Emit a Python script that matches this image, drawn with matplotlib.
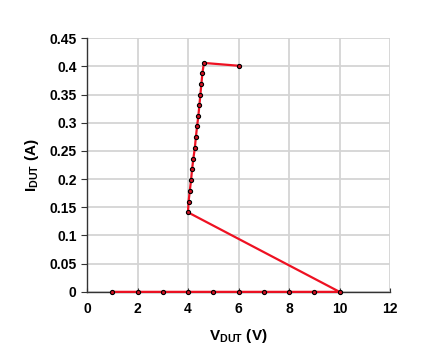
import matplotlib
matplotlib.use("Agg")
import matplotlib.pyplot as plt

plt.rcParams['font.family'] = ['Liberation Sans', 'DejaVu Sans']
plt.rcParams['mathtext.fontset'] = 'custom'
plt.rcParams['mathtext.rm'] = 'Liberation Sans:bold'
plt.rcParams['mathtext.bf'] = 'Liberation Sans:bold'

# measured DUT sweep: V (V), I (A)
v_dut = [1, 2, 3, 4, 5, 6, 7, 8, 9, 10,
         4.0, 4.02, 4.07, 4.12, 4.16, 4.21, 4.27, 4.31, 4.36, 4.41,
         4.45, 4.49, 4.53, 4.57, 4.63, 6.0]
i_dut = [0, 0, 0, 0, 0, 0, 0, 0, 0, 0,
         0.141, 0.159, 0.179, 0.198, 0.217, 0.236, 0.255, 0.274, 0.294, 0.312,
         0.331, 0.350, 0.369, 0.388, 0.406, 0.401]

x_ticks = [0, 2, 4, 6, 8, 10, 12]
y_ticks = [0, 0.05, 0.1, 0.15, 0.2, 0.25, 0.3, 0.35, 0.4, 0.45]
y_labels = ['0', '0.05', '0.1', '0.15', '0.2', '0.25', '0.3', '0.35', '0.4', '0.45']

fig = plt.figure(figsize=(4.45, 3.63), dpi=100)
ax = fig.add_axes([0.1955, 0.196, 0.681, 0.699])

ax.plot(v_dut, i_dut, color='#ee1122', lw=1.6, marker='o', ms=3.0,
        mfc='#cc1122', mec='black', mew=0.8, zorder=3, clip_on=False)

ax.set_xlim(0, 12)
ax.set_ylim(0, 0.45)
ax.set_xticks(x_ticks)
ax.set_yticks(y_ticks)
ax.set_yticklabels(y_labels)
ax.grid(True, color='#d4d4d4', lw=1.3)
ax.set_axisbelow(True)

for s in ['top', 'right']:
    ax.spines[s].set_visible(False)
for s in ['left', 'bottom']:
    ax.spines[s].set_color('#333333')
    ax.spines[s].set_linewidth(1.0)

ax.tick_params(axis='y', labelsize=10, length=4, width=0.8, color='#333333')
ax.tick_params(axis='x', labelsize=10, length=3, width=0.8, color='#333333',
               direction='in', pad=7)
for lab in ax.get_xticklabels() + ax.get_yticklabels():
    lab.set_fontweight('bold')

ax.set_xlabel(r'V$_{\mathrm{DUT}}$ (V)', fontsize=11, fontweight='bold', labelpad=8)
ax.set_ylabel(r'I$_{\mathrm{DUT}}$ (A)', fontsize=11, fontweight='bold', labelpad=6)

fig.savefig('out.png', dpi=100)
